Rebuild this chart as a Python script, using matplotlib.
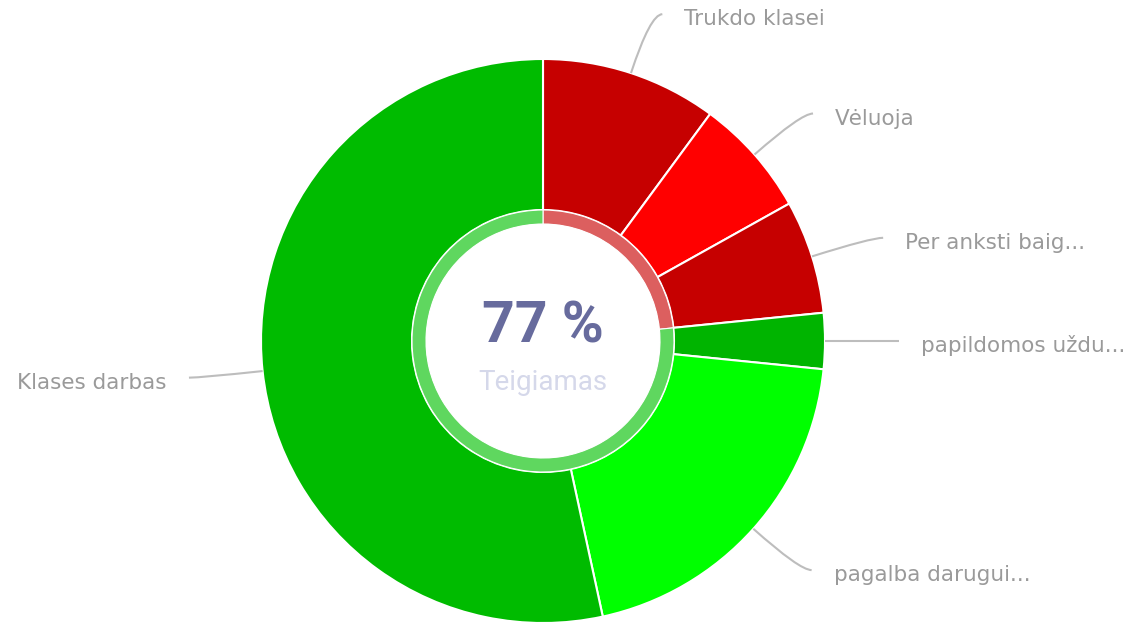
import numpy as np
import matplotlib
matplotlib.use("Agg")
import matplotlib.pyplot as plt
from matplotlib.path import Path
from matplotlib.patches import PathPatch, Circle

# Lesson observation categories (clockwise from 12 o'clock)
labels = ["Trukdo klasei", "Vėluoja", "Per anksti baig...", "papildomos uždu...",
          "pagalba darugui...", "Klases darbas"]
values = [10.1, 6.8, 6.5, 3.2, 20.0, 53.4]
positive = [False, False, False, True, True, True]
colors = ["#c60000", "#ff0000", "#c60000", "#00b400", "#00ff00", "#00bb00"]
center_caption = "Teigiamas"

W, H = 1142, 629
fig = plt.figure(figsize=(W / 100, H / 100), dpi=100)
ax = fig.add_axes([0, 0, 1, 1])

cx, cy = 543, H - 341
R_out, R_in = 282, 131
ring_w, R_hole = 14, 117

# outer donut
ax.pie(values, colors=colors, radius=R_out, center=(cx, cy), startangle=90,
       counterclock=False,
       wedgeprops=dict(width=R_out - R_in, edgecolor="white", linewidth=1.5))

# inner gauge ring: negative share then positive share
total = sum(values)
pos_total = sum(v for v, p in zip(values, positive) if p)
neg_total = total - pos_total
ax.pie([neg_total, pos_total], colors=["#dc5f5f", "#5fd75f"], radius=R_in,
       center=(cx, cy), startangle=90, counterclock=False,
       wedgeprops=dict(width=ring_w, edgecolor="white", linewidth=0.8))
ax.add_patch(Circle((cx, cy), R_hole, facecolor="white", edgecolor="none", zorder=3))

pct = round(pos_total / total * 100)
ax.text(cx, H - 327, f"{pct} %", ha="center", va="center", fontsize=41,
        fontweight="bold", family="Roboto", color="#676b9d", zorder=4)
ax.text(cx, H - 382, center_caption, ha="center", va="center", fontsize=20,
        family="Roboto", color="#d5d8ea", zorder=4)

# data labels with curved connectors
cum = np.cumsum([0] + values[:-1])
R_lab = 344
for lab, v, c0 in zip(labels, values, cum):
    theta = np.deg2rad((c0 + v / 2) / total * 360)
    d = np.array([np.sin(theta), np.cos(theta)])
    side = 1 if d[0] >= 0 else -1
    start = np.array([cx, cy]) + R_out * d
    ctrl = np.array([cx, cy]) + R_lab * d
    end = ctrl + np.array([12 * side, 0])
    path = Path([start, ctrl, end], [Path.MOVETO, Path.CURVE3, Path.CURVE3])
    ax.add_patch(PathPatch(path, facecolor="none", edgecolor="#bdbdbd", lw=1.5, zorder=2))
    ax.text(end[0] + 22 * side, end[1] - 5, lab, ha="left" if side > 0 else "right",
            va="center", fontsize=15.5, family="DejaVu Sans", color="#9a9a9a")

ax.set_xlim(0, W)
ax.set_ylim(0, H)
ax.set_aspect("equal")
ax.axis("off")
fig.savefig("out.png", dpi=100, facecolor="white")
